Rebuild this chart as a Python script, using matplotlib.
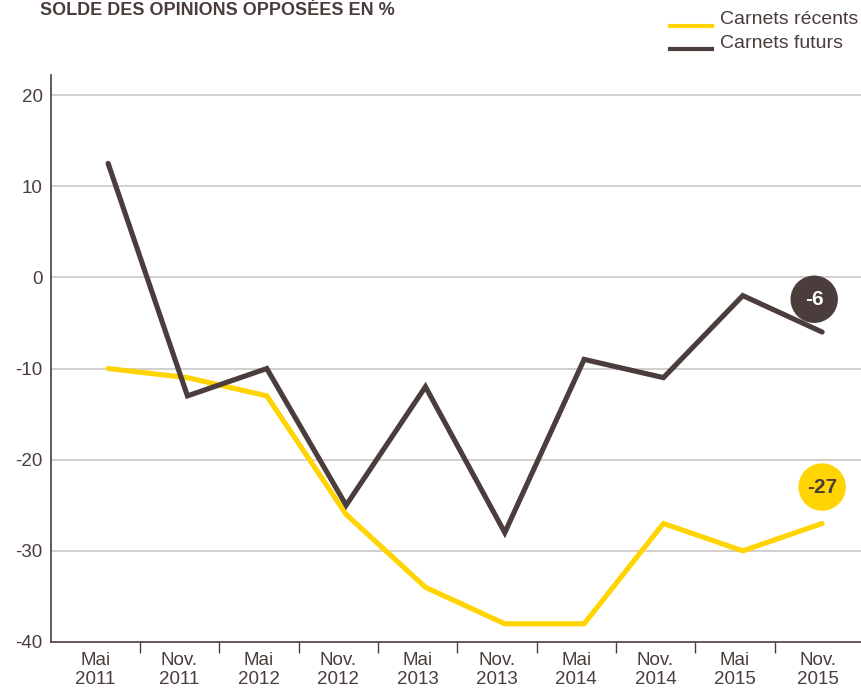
"""Solde des opinions sur les carnets de commandes, 2011-2015."""

import matplotlib.pyplot as plt
from matplotlib.patches import Ellipse

periods = ["Mai\n2011", "Nov.\n2011", "Mai\n2012", "Nov.\n2012", "Mai\n2013",
           "Nov.\n2013", "Mai\n2014", "Nov.\n2014", "Mai\n2015", "Nov.\n2015"]
carnets_recents = [-10, -11, -13, -26, -34, -38, -38, -27, -30, -27]
carnets_futurs = [12.5, -13, -10, -25, -12, -28, -9, -11, -2, -6]
y_ticks = [20, 10, 0, -10, -20, -30, -40]

YELLOW = "#FFD400"
DARK = "#4A3D3B"
GRID = "#C9C2C2"


def main() -> None:
    plt.rcParams["font.family"] = ["Liberation Sans", "DejaVu Sans"]

    fig = plt.figure(figsize=(8.61, 6.88), dpi=100)
    ax = fig.add_axes([51 / 861, 46 / 688, 810 / 861, 567 / 688])

    x = list(range(len(periods)))
    ax.plot(x, carnets_recents, color=YELLOW, lw=3.7, solid_capstyle="round",
            solid_joinstyle="miter", zorder=3)
    ax.plot(x, carnets_futurs, color=DARK, lw=3.7, solid_capstyle="round",
            solid_joinstyle="miter", zorder=4)

    ax.set_xlim(-0.72, 9.49)
    ax.set_ylim(-40, 22.2)

    # gridlines
    for v in y_ticks[:-1]:
        ax.axhline(v, color=GRID, lw=1.1, zorder=1)

    ax.set_yticks(y_ticks)
    ax.set_yticklabels([str(v) for v in y_ticks], fontsize=13.5, color=DARK)
    ax.tick_params(axis="y", length=0, pad=6)

    # band boundaries as ticks, labels centered in bands
    edges = [i + 0.4 for i in range(len(periods) - 1)]
    ax.set_xticks(edges)
    ax.set_xticklabels([])
    ax.tick_params(axis="x", which="major", length=8, width=1, color=DARK)
    lo, hi = ax.get_xlim()
    bounds = [lo] + edges + [hi]
    centers = [(bounds[i] + bounds[i + 1]) / 2 for i in range(len(periods))]
    ax.set_xticks(centers, minor=True)
    ax.set_xticklabels(periods, minor=True, fontsize=13.5, color=DARK,
                       linespacing=1.15)
    ax.tick_params(axis="x", which="minor", length=0, pad=7)

    for side in ("top", "right"):
        ax.spines[side].set_visible(False)
    ax.spines["left"].set_color(DARK)
    ax.spines["bottom"].set_color(DARK)
    ax.spines["left"].set_linewidth(1.2)
    ax.spines["bottom"].set_linewidth(1.2)

    # end-value badges
    w = 46 / 810 * (hi - lo)
    h = 46 / 567 * (22.2 + 40)
    ax.add_patch(Ellipse((8.9, -2.4), w, h, color=DARK, zorder=5, clip_on=False))
    ax.text(8.9, -2.4, str(carnets_futurs[-1]), color="white", fontsize=15,
            fontweight="bold", ha="center", va="center", zorder=6)
    ax.add_patch(Ellipse((9.0, -23), w, h, color=YELLOW, zorder=5, clip_on=False))
    ax.text(9.0, -23, str(carnets_recents[-1]), color=DARK, fontsize=15,
            fontweight="bold", ha="center", va="center", zorder=6)

    fig.text(40 / 861, 1 - 2 / 688, "SOLDE DES OPINIONS OPPOSÉES EN %",
             fontsize=13, fontweight="bold", color=DARK, va="top")

    # legend
    for yy, col, lab in [(25, YELLOW, "Carnets récents"), (48, DARK, "Carnets futurs")]:
        fig.add_artist(plt.Line2D([670 / 861, 712 / 861], [1 - (yy + 1) / 688] * 2,
                                  color=col, lw=3.0, transform=fig.transFigure))
        fig.text(720 / 861, 1 - (yy - 5) / 688, lab, fontsize=14, color=DARK,
                 va="center")

    fig.savefig("out.png", dpi=100)
    plt.close(fig)


if __name__ == "__main__":
    main()
